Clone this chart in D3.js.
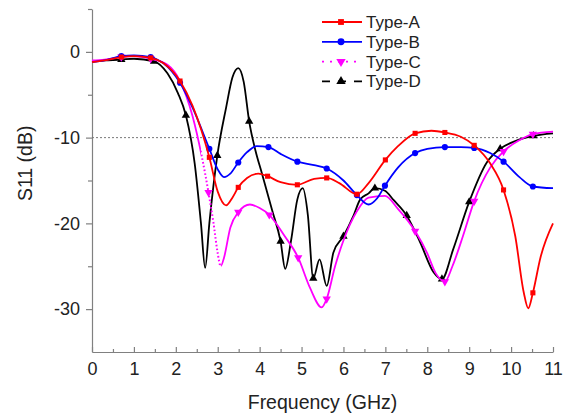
<!DOCTYPE html>
<html lang="en">
<head>
<meta charset="UTF-8">
<title>S11 vs Frequency</title>
<script src="https://cdn.jsdelivr.net/npm/d3@7/dist/d3.min.js"></script>
<style>
    body{ margin:0; background:#fff; font-family:"Liberation Sans", Arial, sans-serif; }
    .axis text{ font-family:"Liberation Sans", Arial, sans-serif; font-size:18px; fill:#222; }
    .axis path, .axis line{ stroke:#808080; stroke-width:1.2; }
    .legend text{ font-size:17px; fill:#222; }
</style>
</head>
<body>
<svg id="main" width="567" height="413"></svg>
<script>
    // frequency (GHz) / S11 (dB)
    const freqA = [0,0.3,0.7,1.0,1.4,1.7,2.1,2.4,2.8,3.0,3.2,3.35,3.49,3.7,3.97,4.19,4.5,4.9,5.3,5.6,5.9,6.32,6.6,7.0,7.3,7.71,8.1,8.42,8.8,9.12,9.5,9.82,10.1,10.3,10.41,10.52,10.7,11]
    const s11A  = [-1.2,-1.0,-0.6,-0.5,-0.7,-1.3,-3.4,-6.3,-12.3,-16.3,-17.9,-17.0,-15.8,-14.7,-14.2,-14.5,-15.2,-15.5,-14.8,-14.7,-15.3,-16.6,-15.3,-12.6,-11.0,-9.5,-9.2,-9.4,-9.9,-10.9,-13.0,-16.1,-21.5,-28.0,-29.9,-28.1,-24.0,-20.0]
    const markA = [0.7,1.4,2.1,2.8,3.49,4.19,4.9,5.6,6.32,7.0,7.71,8.42,9.12,9.82,10.52]

    const freqB = [0,0.3,0.7,1.0,1.4,1.7,2.1,2.4,2.8,3.0,3.15,3.3,3.49,3.7,3.93,4.21,4.5,4.9,5.3,5.6,6.0,6.32,6.6,6.8,6.99,7.3,7.71,8.0,8.42,8.8,9.12,9.5,9.82,10.2,10.52,11]
    const s11B  = [-1.2,-1.0,-0.5,-0.4,-0.6,-1.3,-3.6,-6.5,-11.3,-13.7,-14.6,-14.2,-12.9,-11.7,-11.0,-11.1,-11.9,-12.8,-13.2,-13.6,-15.0,-16.7,-17.8,-17.1,-15.6,-13.5,-11.8,-11.3,-11.1,-11.1,-11.2,-11.8,-12.8,-14.6,-15.7,-15.9]
    const markB = [0.7,1.4,2.1,2.8,3.49,4.21,4.9,5.6,6.32,6.99,7.71,8.42,9.12,9.82,10.52]

    const freqC = [0,0.3,0.7,1.0,1.4,1.8,2.1,2.4,2.62,2.78,2.9,3.0,3.07,3.15,3.3,3.49,3.77,4.0,4.23,4.6,4.92,5.2,5.48,5.6,5.8,6.0,6.32,6.6,6.99,7.3,7.71,8.0,8.2,8.42,8.6,8.85,9.12,9.5,9.82,10.2,10.52,11]
    const s11C  = [-1.0,-0.9,-0.6,-0.5,-0.8,-1.5,-3.4,-7.5,-12.2,-16.4,-20.0,-23.5,-25.0,-24.0,-20.5,-18.7,-17.8,-18.2,-19.0,-21.5,-24.0,-27.5,-29.8,-28.8,-25.0,-22.0,-18.6,-17.0,-16.8,-18.3,-20.9,-23.5,-25.8,-26.8,-25.0,-21.5,-17.4,-13.5,-11.6,-10.3,-9.6,-9.3]
    const markC = [0.7,1.4,2.78,3.49,4.23,4.92,5.6,7.71,8.42,9.12,9.82,10.52]
    const dottedC = [2.6, 3.08]   // stretch drawn as dots

    const freqD = [0,0.3,0.7,1.0,1.48,1.8,2.05,2.24,2.45,2.6,2.7,2.8,2.99,3.2,3.35,3.49,3.62,3.75,3.9,4.05,4.3,4.5,4.61,4.75,4.9,5.03,5.15,5.28,5.43,5.6,5.76,6.0,6.24,6.4,6.6,6.75,6.99,7.2,7.51,7.83,8.15,8.35,8.62,9.0,9.42,9.74,10.1,10.53,11]
    const s11D  = [-1.1,-1.0,-0.9,-0.8,-1.1,-2.5,-4.8,-7.4,-13.0,-20.0,-25.2,-20.0,-12.1,-6.5,-3.0,-1.9,-3.5,-8.1,-11.5,-14.1,-18.5,-22.1,-25.3,-22.0,-17.2,-15.9,-19.0,-26.4,-24.2,-27.3,-23.4,-21.5,-19.1,-17.2,-16.5,-15.9,-16.2,-17.3,-19.1,-22.2,-25.7,-26.5,-23.0,-17.5,-12.9,-11.3,-10.4,-9.8,-9.5]
    const markD = [0.7,1.48,2.24,2.99,3.75,4.5,5.28,6.0,6.75,7.51,8.35,9.0,9.74,10.53]

    const xTicks = d3.range(0, 12, 1)
    const yTicks = [0, -10, -20, -30]
    const refLevel = -10

    const width = 567, height = 413
    const margin = {top: 9, right: 14, bottom: 61, left: 92}

    const xScale = d3.scaleLinear().domain([0, 11]).range([margin.left, width - margin.right])
    const yScale = d3.scaleLinear().domain([-35, 5]).range([height - margin.bottom, margin.top])

    const svg = d3.select("svg#main")
    const plain = d => String(d)   // keep ASCII hyphen for negatives

    // axes
    const xMinor = svg.append("g")
        .attr("class", "axis")
        .attr("transform", `translate(0,${yScale(-35)})`)
        .call(d3.axisBottom(xScale).tickValues(d3.range(0.5, 11, 1)).tickSize(-3).tickFormat(""))
    xMinor.select("path").remove()
    svg.append("g")
        .attr("class", "axis")
        .attr("transform", `translate(0,${yScale(-35)})`)
        .call(d3.axisBottom(xScale).tickValues(xTicks).tickSizeInner(-5).tickSizeOuter(0).tickPadding(10).tickFormat(plain))

    const yMinor = svg.append("g")
        .attr("class", "axis")
        .attr("transform", `translate(${xScale(0)},0)`)
        .call(d3.axisLeft(yScale).tickValues([5, -5, -15, -25]).tickSize(4).tickFormat(""))
    yMinor.select("path").remove()
    svg.append("g")
        .attr("class", "axis")
        .attr("transform", `translate(${xScale(0)},0)`)
        .call(d3.axisLeft(yScale).tickValues(yTicks).tickSizeInner(6).tickSizeOuter(0).tickPadding(6).tickFormat(plain))

    svg.append("text")
        .attr("x", (xScale(0) + xScale(11)) / 2)
        .attr("y", 409)
        .attr("text-anchor", "middle")
        .attr("font-size", 19.5)
        .attr("fill", "#222")
        .text("Frequency (GHz)")
    svg.append("text")
        .attr("transform", `translate(32,${yScale(-13)}) rotate(-90)`)
        .attr("text-anchor", "middle")
        .attr("font-size", 19.5)
        .attr("fill", "#222")
        .text("S11 (dB)")

    // -10 dB reference
    svg.append("line")
        .attr("x1", xScale(0)).attr("x2", xScale(11))
        .attr("y1", yScale(refLevel)).attr("y2", yScale(refLevel))
        .attr("stroke", "#777").attr("stroke-width", 1).attr("stroke-dasharray", "2,2")

    const line = d3.line()
        .x(d => xScale(d[0]))
        .y(d => yScale(d[1]))
        .curve(d3.curveMonotoneX)

    const series = [
        {name: "Type-A", f: freqA, v: s11A, m: markA, color: "#ff0000", sym: d3.symbolSquare, size: 26, rot: 0},
        {name: "Type-B", f: freqB, v: s11B, m: markB, color: "#0000ff", sym: d3.symbolCircle, size: 30, rot: 0},
        {name: "Type-C", f: freqC, v: s11C, m: markC, color: "#ff00ff", sym: d3.symbolTriangle, size: 30, rot: 180},
        {name: "Type-D", f: freqD, v: s11D, m: markD, color: "#000000", sym: d3.symbolTriangle, size: 30, rot: 0}
    ]

    const plot = svg.append("g")
    series.slice().reverse().forEach(s => {
        const pts = s.f.map((f, i) => [f, s.v[i]])
        if (s.name === "Type-C") {
            const path = plot.append("path")
                .attr("fill", "none").attr("stroke", s.color).attr("stroke-width", 1.8)
                .attr("d", line(pts))
            // split solid / dotted by clipping the same path
            const x0 = xScale(dottedC[0]), x1 = xScale(dottedC[1])
            svg.append("clipPath").attr("id", "solidC")
                .selectAll("rect").data([[0, x0], [x1, width]]).join("rect")
                .attr("x", d => d[0]).attr("width", d => d[1] - d[0])
                .attr("y", 0).attr("height", height)
            svg.append("clipPath").attr("id", "dotC")
                .append("rect").attr("x", x0).attr("width", x1 - x0).attr("y", 0).attr("height", height)
            path.attr("clip-path", "url(#solidC)")
            plot.append("path")
                .attr("fill", "none").attr("stroke", s.color).attr("stroke-width", 2)
                .attr("stroke-dasharray", "1.6,2.2")
                .attr("clip-path", "url(#dotC)")
                .attr("d", line(pts))
        } else {
            plot.append("path")
                .attr("fill", "none").attr("stroke", s.color).attr("stroke-width", 1.8)
                .attr("d", line(pts))
        }
        plot.append("g").selectAll("path")
            .data(pts.filter(p => s.m.includes(p[0])))
            .join("path")
            .attr("transform", d => `translate(${xScale(d[0])},${yScale(d[1])}) rotate(${s.rot})`)
            .attr("d", d3.symbol().type(s.sym).size(s.size))
            .attr("fill", s.color)
    })

    // legend
    const legend = svg.append("g")
        .attr("class", "legend")
        .attr("transform", "translate(322,22)")
        .selectAll("g")
        .data(series)
        .join("g")
        .attr("transform", (_, i) => `translate(0,${i * 19.8})`)
    legend.append("line")
        .attr("x1", 0).attr("x2", 40).attr("y1", 0).attr("y2", 0)
        .attr("stroke", d => d.color).attr("stroke-width", 1.8)
        .attr("stroke-dasharray", (d, i) => i === 2 ? "2,6" : i === 3 ? "8,8" : null)
    legend.append("path")
        .attr("transform", d => `translate(19,0) rotate(${d.rot})`)
        .attr("d", d => d3.symbol().type(d.sym).size(d.size + 8)())
        .attr("fill", d => d.color)
    legend.append("text")
        .attr("x", 44).attr("y", 6)
        .text(d => d.name)
</script>
</body>
</html>
